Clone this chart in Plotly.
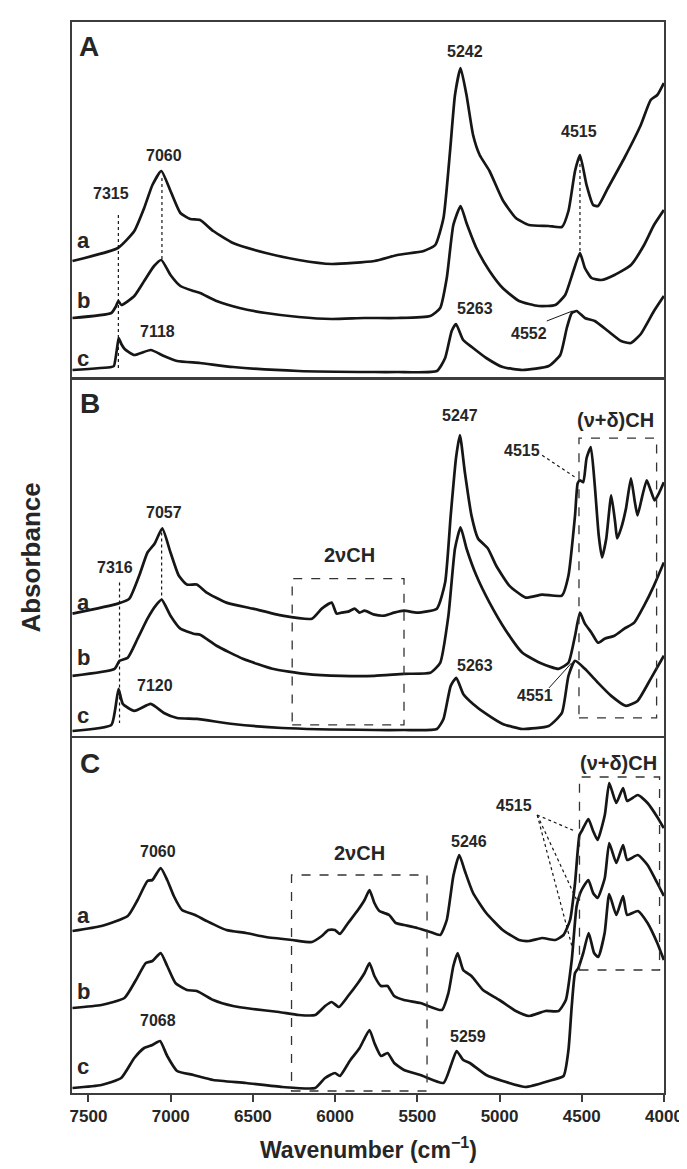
import plotly.graph_objects as go

# ---------------- data (wavenumber in cm-1, absorbance in a.u.) ----------------
# Panel A
WN_A_a = [7597, 7321, 7221, 7161, 7111, 7057, 7001, 6941, 6881, 6821, 6741, 6621, 6421, 6221, 6021,
          5761, 5621, 5461, 5391, 5341, 5301, 5271, 5237, 5201, 5161, 5121, 5061, 4981, 4901, 4821,
          4701, 4621, 4581, 4541, 4511, 4471, 4431, 4401, 4341, 4241, 4141, 4081, 4041, 4001]
AB_A_a = [1.16, 1.29, 1.46, 1.69, 1.92, 2.06, 1.86, 1.64, 1.58, 1.57, 1.46, 1.34, 1.24, 1.17, 1.13,
          1.16, 1.22, 1.26, 1.32, 1.59, 2.26, 2.82, 3.09, 2.82, 2.42, 2.22, 2.06, 1.77, 1.59, 1.52,
          1.51, 1.50, 1.66, 2.06, 2.22, 1.92, 1.72, 1.71, 1.89, 2.19, 2.52, 2.77, 2.82, 2.94]

WN_A_b = [7597, 7361, 7335, 7318, 7300, 7221, 7161, 7101, 7057, 7001, 6941, 6861, 6821, 6721, 6581,
          6421, 6221, 6021, 5821, 5621, 5421, 5361, 5321, 5281, 5237, 5201, 5141, 5061, 4981, 4881,
          4761, 4661, 4601, 4551, 4511, 4481, 4441, 4381, 4301, 4201, 4121, 4061, 4001]
AB_A_b = [0.59, 0.64, 0.70, 0.76, 0.72, 0.81, 0.96, 1.11, 1.17, 1.02, 0.91, 0.86, 0.84, 0.76, 0.69,
          0.64, 0.60, 0.58, 0.59, 0.59, 0.61, 0.69, 0.99, 1.52, 1.71, 1.54, 1.29, 1.06, 0.89, 0.76,
          0.71, 0.72, 0.82, 1.06, 1.24, 1.09, 0.99, 0.97, 1.02, 1.12, 1.32, 1.52, 1.67]

WN_A_c = [7597, 7361, 7345, 7325, 7316, 7300, 7280, 7221, 7121, 7041, 6961, 6821, 6621, 6221, 5761,
          5621, 5381, 5331, 5291, 5265, 5221, 5161, 5081, 4981, 4861, 4701, 4631, 4591, 4561, 4531,
          4481, 4421, 4341, 4261, 4201, 4141, 4061, 4001]
AB_A_c = [0.07, 0.10, 0.11, 0.30, 0.39, 0.33, 0.28, 0.22, 0.27, 0.21, 0.16, 0.14, 0.10, 0.06, 0.05,
          0.05, 0.06, 0.19, 0.46, 0.53, 0.37, 0.29, 0.19, 0.10, 0.07, 0.11, 0.22, 0.49, 0.64, 0.66,
          0.59, 0.56, 0.46, 0.36, 0.34, 0.43, 0.66, 0.81]

# Panel B
WN_B_a = [7597, 7321, 7251, 7191, 7141, 7097, 7051, 7001, 6951, 6901, 6841, 6781, 6661, 6501, 6321,
          6141, 6081, 6021, 5991, 5961, 5921, 5881, 5851, 5821, 5761, 5701, 5641, 5581, 5501, 5381,
          5331, 5297, 5265, 5241, 5211, 5171, 5131, 5071, 5021, 4941, 4841, 4741, 4621, 4581, 4541,
          4525, 4511, 4491, 4471, 4445, 4421, 4397, 4377, 4351, 4321, 4297, 4285, 4261, 4231, 4201,
          4177, 4161, 4131, 4105, 4081, 4057, 4031, 4001]
AB_B_a = [1.22, 1.32, 1.37, 1.60, 1.83, 1.92, 2.07, 1.83, 1.60, 1.51, 1.51, 1.43, 1.33, 1.27, 1.20,
          1.17, 1.27, 1.33, 1.22, 1.23, 1.24, 1.27, 1.23, 1.25, 1.21, 1.20, 1.23, 1.25, 1.23, 1.27,
          1.53, 2.20, 2.77, 3.00, 2.63, 2.20, 1.97, 1.87, 1.70, 1.50, 1.38, 1.41, 1.40, 1.60, 2.20,
          2.52, 2.55, 2.53, 2.77, 2.88, 2.50, 2.00, 1.78, 1.97, 2.40, 2.13, 1.97, 2.07, 2.27, 2.57,
          2.33, 2.20, 2.40, 2.55, 2.45, 2.35, 2.42, 2.53]

WN_B_b = [7597, 7341, 7311, 7261, 7201, 7141, 7091, 7055, 7001, 6941, 6861, 6821, 6721, 6561, 6381,
          6181, 5961, 5761, 5581, 5421, 5361, 5311, 5271, 5237, 5201, 5141, 5061, 4961, 4861, 4741,
          4641, 4581, 4541, 4511, 4481, 4441, 4401, 4361, 4301, 4241, 4181, 4121, 4061, 4001]
AB_B_b = [0.60, 0.67, 0.75, 0.78, 0.97, 1.17, 1.30, 1.36, 1.20, 1.07, 1.02, 1.01, 0.90, 0.77, 0.67,
          0.62, 0.60, 0.60, 0.62, 0.63, 0.73, 1.20, 1.87, 2.08, 1.87, 1.60, 1.33, 1.05, 0.83, 0.72,
          0.67, 0.73, 1.00, 1.23, 1.12, 1.03, 0.93, 0.97, 1.00, 1.07, 1.13, 1.30, 1.50, 1.73]

WN_B_c = [7597, 7361, 7337, 7317, 7291, 7221, 7121, 7041, 6961, 6841, 6621, 6321, 5761, 5581, 5381,
          5341, 5297, 5263, 5221, 5161, 5081, 4981, 4861, 4701, 4621, 4581, 4541, 4481, 4401, 4321,
          4231, 4161, 4081, 4001]
AB_B_c = [0.05, 0.11, 0.27, 0.47, 0.32, 0.25, 0.32, 0.23, 0.18, 0.17, 0.12, 0.08, 0.06, 0.06, 0.07,
          0.17, 0.50, 0.58, 0.42, 0.32, 0.22, 0.12, 0.07, 0.10, 0.23, 0.60, 0.75, 0.67, 0.53, 0.40,
          0.30, 0.35, 0.57, 0.80]

# Panel C
WN_C_a = [7597, 7421, 7261, 7201, 7141, 7111, 7061, 7021, 6981, 6931, 6851, 6781, 6661, 6541, 6421,
          6261, 6141, 6081, 6041, 6001, 5971, 5921, 5861, 5821, 5791, 5761, 5731, 5701, 5671, 5631,
          5581, 5501, 5421, 5361, 5321, 5281, 5245, 5211, 5161, 5081, 4981, 4881, 4821, 4741, 4661,
          4611, 4571, 4541, 4514, 4497, 4460, 4431, 4404, 4360, 4333, 4290, 4249, 4224, 4159, 4100,
          4041, 4009, 4001]
AB_C_a = [1.62, 1.67, 1.77, 1.93, 2.12, 2.13, 2.25, 2.13, 1.97, 1.83, 1.78, 1.72, 1.63, 1.60, 1.56,
          1.53, 1.51, 1.57, 1.63, 1.63, 1.59, 1.70, 1.83, 1.93, 2.03, 1.90, 1.82, 1.80, 1.78, 1.70,
          1.68, 1.65, 1.61, 1.58, 1.73, 2.17, 2.38, 2.22, 2.00, 1.80, 1.63, 1.53, 1.52, 1.55, 1.53,
          1.58, 1.73, 2.10, 2.58, 2.63, 2.74, 2.62, 2.53, 2.78, 3.10, 2.90, 3.05, 2.92, 2.98, 2.90,
          2.76, 2.67, 2.65]

WN_C_b = [7597, 7421, 7281, 7211, 7151, 7111, 7061, 7021, 6971, 6901, 6841, 6741, 6621, 6501, 6341,
          6221, 6121, 6061, 6021, 5977, 5921, 5861, 5821, 5791, 5761, 5721, 5681, 5641, 5581, 5481,
          5351, 5311, 5281, 5255, 5221, 5171, 5101, 5001, 4901, 4821, 4721, 4641, 4597, 4561, 4531,
          4501, 4460, 4431, 4404, 4360, 4333, 4290, 4249, 4224, 4159, 4100, 4041, 4001]
AB_C_b = [0.85, 0.88, 0.95, 1.13, 1.30, 1.32, 1.40, 1.27, 1.10, 1.03, 1.02, 0.93, 0.87, 0.84, 0.81,
          0.78, 0.78, 0.87, 0.91, 0.86, 0.97, 1.10, 1.20, 1.30, 1.17, 1.07, 1.07, 0.97, 0.93, 0.90,
          0.83, 1.00, 1.27, 1.40, 1.23, 1.17, 1.03, 0.93, 0.82, 0.77, 0.82, 0.82, 0.93, 1.33, 1.87,
          2.03, 2.13, 2.00, 1.95, 2.15, 2.50, 2.30, 2.48, 2.33, 2.38, 2.28, 2.10, 1.97]

WN_C_c = [7597, 7421, 7301, 7221, 7161, 7111, 7065, 7021, 6961, 6861, 6741, 6541, 6321, 6121, 6061,
          6001, 5971, 5911, 5851, 5791, 5761, 5721, 5681, 5641, 5581, 5481, 5341, 5297, 5261, 5221,
          5181, 5081, 4981, 4841, 4701, 4611, 4581, 4561, 4541, 4521, 4491, 4458, 4425, 4400, 4361,
          4333, 4290, 4249, 4224, 4159, 4100, 4041, 4001]
AB_C_c = [0.05, 0.08, 0.15, 0.35, 0.45, 0.48, 0.52, 0.37, 0.22, 0.18, 0.13, 0.10, 0.06, 0.05, 0.15,
          0.20, 0.17, 0.32, 0.45, 0.63, 0.50, 0.37, 0.40, 0.30, 0.23, 0.18, 0.10, 0.27, 0.42, 0.33,
          0.30, 0.18, 0.12, 0.06, 0.12, 0.17, 0.43, 0.87, 1.20, 1.25, 1.40, 1.60, 1.40, 1.36, 1.60,
          1.99, 1.78, 1.97, 1.78, 1.82, 1.70, 1.50, 1.33]

X_TICKS = [7500, 7000, 6500, 6000, 5500, 5000, 4500, 4000]
X_RANGE = [7600, 4000]
Y_RANGE = [0, 3.55]

# --------------------------- figure ---------------------------
W, H = 687, 1169
ML, MR, MT, MB = 64, 23, 14, 84
FONT = "Liberation Sans, Arial, sans-serif"
INK = "#161616"
FRAME = "#3c3c3c"

fig = go.Figure()

panels = [
    ("x", "y", [(WN_A_a, AB_A_a), (WN_A_b, AB_A_b), (WN_A_c, AB_A_c)]),
    ("x2", "y2", [(WN_B_a, AB_B_a), (WN_B_b, AB_B_b), (WN_B_c, AB_B_c)]),
    ("x3", "y3", [(WN_C_a, AB_C_a), (WN_C_b, AB_C_b), (WN_C_c, AB_C_c)]),
]
for xr, yr, curves in panels:
    for wn, ab in curves:
        fig.add_trace(go.Scatter(x=wn, y=ab, xaxis=xr, yaxis=yr, mode="lines",
                                 line=dict(color=INK, width=2.7, shape="spline", smoothing=0.5),
                                 showlegend=False, hoverinfo="skip"))

plot_h = H - MT - MB
def dom(top_px, bot_px):
    return [(H - MB - bot_px) / plot_h, (H - MB - top_px) / plot_h]

common_x = dict(range=X_RANGE, showgrid=False, zeroline=False, showline=True, mirror=True,
                linecolor=FRAME, linewidth=1.8)
common_y = dict(range=Y_RANGE, showgrid=False, zeroline=False, showline=True, mirror=True,
                linecolor=FRAME, linewidth=1.8, showticklabels=False, ticks="")

fig.update_layout(
    width=W, height=H, margin=dict(l=ML, r=MR, t=MT, b=MB),
    paper_bgcolor="white", plot_bgcolor="white",
    font=dict(family=FONT, color=INK),
    xaxis=dict(common_x, anchor="y", showticklabels=False, ticks=""),
    xaxis2=dict(common_x, anchor="y2", matches="x", showticklabels=False, ticks=""),
    xaxis3=dict(common_x, anchor="y3", matches="x", tickvals=X_TICKS,
                ticktext=[f"<b>{v}</b>" for v in X_TICKS], ticks="outside", ticklen=7,
                tickwidth=1.6, tickcolor=FRAME, tickfont=dict(size=17, color="#262626")),
    yaxis=dict(common_y, domain=dom(14, 369), anchor="x"),
    yaxis2=dict(common_y, domain=dom(372, 728), anchor="x2"),
    yaxis3=dict(common_y, domain=dom(730, 1085), anchor="x3"),
)

# --------------------------- annotations ---------------------------
def txt(xr, yr, x, y, s, size=16, bold=True):
    fig.add_annotation(x=x, y=y, xref=xr, yref=yr, text=(f"<b>{s}</b>" if bold else s),
                       showarrow=False, font=dict(size=size, family=FONT, color="#262626"),
                       xanchor="center", yanchor="middle")

def seg(xr, yr, x0, y0, x1, y1, dash="dot", width=1.2):
    fig.add_shape(type="line", xref=xr, yref=yr, x0=x0, y0=y0, x1=x1, y1=y1,
                  line=dict(color=INK, width=width, dash=dash))

def box(xr, yr, x0, y0, x1, y1):
    fig.add_shape(type="rect", xref=xr, yref=yr, x0=x0, y0=y0, x1=x1, y1=y1,
                  line=dict(color="#333333", width=1.3, dash="dash"), fillcolor="rgba(0,0,0,0)")

# Panel A
txt("x", "y", 7495, 3.31, "A", size=28)
txt("x", "y", 7040, 2.22, "7060")
txt("x", "y", 7363, 1.84, "7315")
txt("x", "y", 7081, 0.46, "7118")
txt("x", "y", 5209, 3.26, "5242")
txt("x", "y", 4514, 2.46, "4515")
txt("x", "y", 5149, 0.69, "5263")
txt("x", "y", 4819, 0.44, "4552")
txt("x", "y", 7531, 1.37, "a", size=22)
txt("x", "y", 7531, 0.77, "b", size=22)
txt("x", "y", 7531, 0.19, "c", size=22)
seg("x", "y", 7318, 1.62, 7318, 0.09)
seg("x", "y", 7053, 1.99, 7053, 1.17)
seg("x", "y", 4511, 2.19, 4511, 1.26)
seg("x", "y", 4713, 0.56, 4557, 0.66, dash="solid", width=1.0)

# Panel B
txt("x2", "y2", 7489, 3.32, "B", size=28)
txt("x2", "y2", 7039, 2.23, "7057")
txt("x2", "y2", 7339, 1.68, "7316")
txt("x2", "y2", 7093, 0.50, "7120")
txt("x2", "y2", 5911, 1.80, "2νCH", size=20)
txt("x2", "y2", 5240, 3.20, "5247")
txt("x2", "y2", 4293, 3.15, "(ν+δ)CH", size=20)
txt("x2", "y2", 4863, 2.85, "4515")
txt("x2", "y2", 5149, 0.70, "5263")
txt("x2", "y2", 4783, 0.40, "4551")
txt("x2", "y2", 7531, 1.33, "a", size=22)
txt("x2", "y2", 7531, 0.78, "b", size=22)
txt("x2", "y2", 7531, 0.20, "c", size=22)
seg("x2", "y2", 7311, 1.53, 7311, 0.13)
seg("x2", "y2", 7055, 2.03, 7055, 1.35)
seg("x2", "y2", 4741, 2.80, 4531, 2.57)
seg("x2", "y2", 4699, 0.48, 4561, 0.73, dash="solid", width=1.0)
box("x2", "y2", 6261, 0.11, 5581, 1.57)
box("x2", "y2", 4517, 0.18, 4045, 2.97)

# Panel C
txt("x3", "y3", 7489, 3.30, "C", size=28)
txt("x3", "y3", 7075, 2.42, "7060")
txt("x3", "y3", 7075, 0.73, "7068")
txt("x3", "y3", 5851, 2.40, "2νCH", size=20)
txt("x3", "y3", 5183, 2.52, "5246")
txt("x3", "y3", 5189, 0.57, "5259")
txt("x3", "y3", 4275, 3.30, "(ν+δ)CH", size=20)
txt("x3", "y3", 4911, 2.88, "4515")
txt("x3", "y3", 7531, 1.78, "a", size=22)
txt("x3", "y3", 7531, 1.02, "b", size=22)
txt("x3", "y3", 7531, 0.27, "c", size=22)
seg("x3", "y3", 4771, 2.78, 4543, 2.62)
seg("x3", "y3", 4771, 2.78, 4531, 1.93)
seg("x3", "y3", 4771, 2.78, 4549, 1.40)
box("x3", "y3", 6265, 0.02, 5441, 2.18)
box("x3", "y3", 4514, 1.23, 4027, 3.16)

# Axis titles
fig.add_annotation(x=(22 - ML) / (W - ML - MR), y=(H - MB - 550) / plot_h, xref="paper", yref="paper",
                   text="<b>Absorbance</b>", textangle=-90, showarrow=False,
                   font=dict(size=26, family=FONT, color="#262626"), xanchor="center", yanchor="middle")
fig.add_annotation(x=(365 - ML) / (W - ML - MR), y=(H - MB - 1140) / plot_h, xref="paper", yref="paper",
                   text="<b>Wavenumber (cm<sup>−1</sup>)</b>", showarrow=False,
                   font=dict(size=23, family=FONT, color="#262626"), xanchor="center", yanchor="middle")

fig.write_html("out.html")
